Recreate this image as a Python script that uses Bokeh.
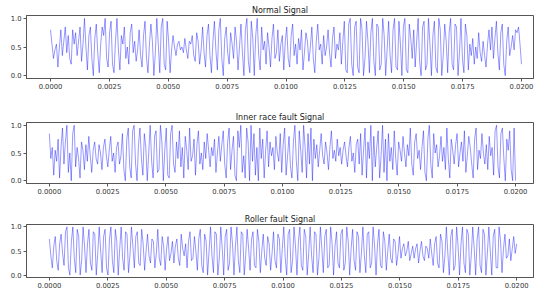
from bokeh.plotting import figure
from bokeh.layouts import column
from bokeh.models import FixedTicker, PrintfTickFormatter, Range1d
from bokeh.embed import file_html
from bokeh.resources import INLINE

# ---- data (normalised amplitude over a 0.02 s window, 40 samples per 0.0025 s) ----
normal = [
    0.80,0.55,0.30,0.45,0.55,0.15,0.50,0.80,0.35,0.60,0.85,0.40,0.70,0.30,0.20,0.80,0.55,0.75,0.35,0.60,0.85,0.25,0.55,1.00,0.50,0.10,0.70,0.85,0.30,0.00,0.65,0.90,0.40,0.05,0.55,0.85,0.70,1.00,0.30,0.15,
    0.75,0.95,0.20,0.05,0.60,1.00,0.45,0.10,0.70,0.55,0.85,0.30,0.50,0.20,0.75,0.90,0.40,0.60,0.25,0.45,0.80,0.35,0.15,0.70,0.95,0.30,0.05,0.55,0.90,0.60,0.00,0.40,1.00,0.55,0.05,0.85,1.00,0.20,0.10,0.95,
    0.60,0.05,0.45,0.70,0.50,0.35,0.55,0.60,0.45,0.50,0.40,0.65,0.45,0.30,0.60,0.55,0.70,0.35,0.25,0.75,0.60,0.20,0.45,0.85,0.40,0.15,0.70,0.90,0.35,0.05,0.60,0.95,0.45,0.10,0.80,1.00,0.30,0.00,0.65,0.85,
    0.40,0.20,0.75,0.55,0.30,0.85,0.60,0.10,0.50,0.90,0.40,0.00,0.80,1.00,0.25,0.05,0.95,0.65,0.00,0.70,1.00,0.35,0.10,0.85,0.45,0.60,0.20,0.75,0.50,0.15,0.65,0.90,0.30,0.40,0.80,0.25,0.55,0.70,0.10,0.60,
    0.85,0.30,0.15,0.70,0.90,0.35,0.55,0.20,0.65,0.45,0.80,0.10,0.40,0.75,0.60,0.25,0.50,0.85,0.30,0.05,0.60,0.90,0.45,0.55,0.20,0.70,0.35,0.50,0.80,0.40,0.15,0.65,0.85,0.30,0.55,0.45,0.75,0.20,0.60,0.95,
    0.10,0.05,0.90,1.00,0.20,0.00,0.85,0.95,0.15,0.05,1.00,0.80,0.00,0.30,0.95,0.60,0.05,0.75,1.00,0.25,0.00,0.90,0.85,0.10,0.20,1.00,0.70,0.00,0.45,0.95,0.35,0.05,0.80,1.00,0.15,0.10,0.95,0.55,0.00,0.85,
    1.00,0.10,0.05,0.90,0.65,0.30,0.80,0.15,0.60,1.00,0.25,0.00,0.85,0.95,0.10,0.20,1.00,0.55,0.00,0.70,0.95,0.15,0.05,1.00,0.80,0.00,0.35,0.90,0.60,0.05,0.75,1.00,0.20,0.10,0.90,0.85,0.00,0.40,1.00,0.30,
    0.05,0.90,0.70,0.10,0.55,0.35,0.65,0.20,0.50,0.30,0.75,0.40,0.25,0.60,0.35,0.15,0.55,0.80,0.45,0.85,0.30,0.65,0.95,0.40,0.10,0.75,0.90,0.20,0.00,0.60,0.85,0.35,0.50,0.70,0.45,0.80,0.75,0.85,0.55,0.20,
]

inner_race = [
    0.85,0.40,0.60,0.10,0.55,0.35,0.75,0.05,0.60,0.95,0.30,0.70,1.00,0.15,0.50,0.00,0.85,1.00,0.25,0.60,0.40,0.05,0.70,0.55,0.20,0.65,0.35,0.80,0.45,0.15,0.55,0.70,0.40,0.30,0.65,0.50,0.20,0.60,0.75,0.45,
    0.25,0.55,0.80,0.35,0.50,0.15,0.60,0.70,0.30,0.45,0.85,0.20,0.00,0.75,0.95,0.25,0.05,0.90,1.00,0.30,0.00,0.65,0.95,0.40,0.10,0.85,0.60,0.00,0.50,1.00,0.35,0.05,0.80,0.90,0.15,0.20,1.00,0.70,0.00,0.55,
    0.95,0.10,0.05,0.85,1.00,0.30,0.15,0.70,0.40,0.90,0.25,0.60,0.05,0.80,0.55,0.20,0.95,0.35,0.45,0.75,0.10,0.65,0.90,0.30,0.50,0.20,0.70,0.40,0.85,0.55,0.25,0.60,0.45,0.75,0.15,0.50,0.80,0.35,0.65,0.90,
    0.30,0.05,0.70,0.95,0.20,0.55,0.80,0.10,0.00,0.90,0.60,1.00,0.15,0.45,0.05,0.95,0.70,0.00,1.00,0.35,0.85,0.10,0.60,0.00,0.95,0.40,0.75,0.05,0.55,0.90,0.25,0.70,0.45,0.60,0.20,0.80,0.50,0.35,0.85,0.15,
    0.65,0.95,0.10,0.45,0.80,0.25,0.05,0.70,1.00,0.35,0.00,0.90,0.55,0.15,1.00,0.60,0.05,0.85,0.30,0.95,0.00,0.75,0.40,0.65,0.25,0.55,0.85,0.45,0.30,0.70,0.50,0.20,0.60,0.90,0.40,0.55,0.35,0.75,0.45,0.60,
    0.30,0.55,0.70,0.45,0.25,0.60,0.80,0.35,0.50,0.15,0.65,0.75,0.30,0.85,0.10,0.55,0.95,0.05,0.70,0.40,1.00,0.00,0.80,0.25,0.60,0.90,0.05,0.45,1.00,0.15,0.75,0.00,0.85,0.35,0.60,0.20,0.90,0.40,0.10,0.70,
    0.55,0.35,0.80,0.50,0.25,0.65,0.45,0.95,0.30,0.10,0.70,0.85,0.40,0.55,0.20,0.60,0.90,0.15,0.00,0.75,1.00,0.30,0.05,0.85,0.50,0.65,0.25,0.45,0.80,0.35,0.60,0.20,0.95,0.40,0.05,0.75,0.55,0.30,0.65,0.85,
    0.25,0.50,0.70,0.35,0.90,0.15,0.45,0.80,0.60,0.30,0.05,0.75,0.95,0.20,0.55,0.40,0.85,0.50,0.30,0.65,0.20,0.80,0.45,0.60,0.10,0.90,1.00,0.25,0.05,0.85,0.95,0.40,0.00,0.75,0.55,0.90,0.20,0.00,0.95,0.00,
]

roller = [
    0.75,0.40,0.15,0.60,0.80,0.30,0.10,0.65,0.85,0.45,0.20,0.90,1.00,0.15,0.00,0.70,1.00,0.35,0.05,0.95,0.80,0.00,0.30,1.00,0.60,0.05,0.65,0.95,0.25,0.10,0.90,0.85,0.00,0.45,1.00,0.50,0.05,0.80,0.95,0.15,
    0.00,0.75,1.00,0.30,0.05,0.95,0.70,0.00,0.55,1.00,0.35,0.10,0.90,0.85,0.05,0.40,1.00,0.60,0.15,0.80,0.90,0.25,0.20,0.95,0.65,0.10,0.50,0.85,0.40,0.25,0.75,0.70,0.15,0.45,0.95,0.35,0.20,0.80,0.60,0.10,
    0.55,0.80,0.30,0.45,0.70,0.25,0.60,0.75,0.35,0.20,0.85,0.55,0.40,0.65,0.15,0.70,0.90,0.30,0.35,0.80,0.50,0.10,0.75,0.95,0.20,0.05,0.85,0.70,0.00,0.50,1.00,0.40,0.05,0.90,0.85,0.00,0.35,1.00,0.55,0.00,
    0.80,0.95,0.10,0.25,1.00,0.65,0.00,0.60,1.00,0.30,0.05,0.90,0.85,0.00,0.40,0.95,0.55,0.10,0.75,0.90,0.20,0.15,0.95,0.70,0.05,0.50,0.85,0.35,0.20,0.80,0.65,0.10,0.45,0.90,0.30,0.15,0.85,0.75,0.05,0.55,
    1.00,0.35,0.00,0.85,0.95,0.05,0.30,1.00,0.60,0.00,0.70,1.00,0.20,0.10,0.95,0.80,0.00,0.45,1.00,0.40,0.05,0.90,0.85,0.00,0.35,1.00,0.55,0.05,0.80,0.95,0.15,0.20,1.00,0.65,0.00,0.60,0.90,0.25,0.15,0.85,
    0.95,0.10,0.25,1.00,0.70,0.00,0.55,0.95,0.30,0.10,0.90,0.80,0.05,0.45,1.00,0.40,0.05,0.85,0.90,0.15,0.25,1.00,0.60,0.00,0.65,0.95,0.20,0.15,0.90,0.70,0.10,0.50,0.85,0.35,0.25,0.75,0.70,0.20,0.45,0.80,
    0.35,0.55,0.65,0.40,0.50,0.70,0.30,0.45,0.60,0.35,0.55,0.65,0.25,0.50,0.70,0.40,0.30,0.60,0.55,0.35,0.75,0.45,0.20,0.65,0.80,0.25,0.15,0.85,0.70,0.05,0.40,1.00,0.45,0.00,0.80,0.95,0.10,0.20,1.00,0.60,
    0.00,0.65,1.00,0.25,0.05,0.95,0.85,0.00,0.40,1.00,0.55,0.00,0.75,1.00,0.20,0.05,0.95,0.85,0.00,0.45,1.00,0.50,0.00,0.80,0.95,0.15,0.15,1.00,0.70,0.05,0.55,0.85,0.35,0.40,0.75,0.30,0.55,0.80,0.45,0.65,
]

titles = ["Normal Signal", "Inner race fault Signal", "Roller fault Signal"]
x_ticks = [0.0, 0.0025, 0.005, 0.0075, 0.01, 0.0125, 0.015, 0.0175, 0.02]
y_ticks = [0.0, 0.5, 1.0]
duration = 0.02


def make(title, values, height, top, bottom, left, x_start, x_end):
    n = len(values)
    t = [i * duration / (n - 1) for i in range(n)]
    p = figure(width=534, height=height, output_backend="svg", toolbar_location=None,
               x_range=Range1d(x_start, x_end), y_range=Range1d(-0.05, 1.05),
               min_border_top=top, min_border_bottom=bottom,
               min_border_left=left, min_border_right=1)
    p.line(t, values, line_color="blue", line_alpha=0.45, line_width=0.9)
    p.title.text = title
    p.title.align = "center"
    p.title.text_font = "DejaVu Sans"
    p.title.text_font_size = "8px"
    p.title.text_font_style = "normal"
    p.title.text_color = "#222222"
    p.title.standoff = 2
    p.title.offset = 0
    p.xgrid.visible = False
    p.ygrid.visible = False
    p.outline_line_color = "#555555"
    p.outline_line_width = 1
    p.xaxis.ticker = FixedTicker(ticks=x_ticks)
    p.yaxis.ticker = FixedTicker(ticks=y_ticks)
    p.xaxis.formatter = PrintfTickFormatter(format="%.4f")
    p.yaxis.formatter = PrintfTickFormatter(format="%.1f")
    for ax in (p.xaxis[0], p.yaxis[0]):
        ax.axis_line_color = "#555555"
        ax.major_tick_line_color = "#555555"
        ax.major_tick_out = 3
        ax.major_tick_in = 0
        ax.minor_tick_line_color = None
        ax.major_label_text_font = "DejaVu Sans"
        ax.major_label_text_font_size = "6.8px"
        ax.major_label_text_color = "#333333"
        ax.major_label_standoff = 2
    return p


f1 = make(titles[0], normal, 98, 15, 20, 26, -0.00102, 0.02051)
f2 = make(titles[1], inner_race, 100, 24, 15, 22, -0.00098, 0.02077)
f3 = make(titles[2], roller, 92, 26, 13, 23, -0.00098, 0.02072)

layout = column(f1, f2, f3, spacing=0)
open("out.html", "w").write(file_html(layout, INLINE))
